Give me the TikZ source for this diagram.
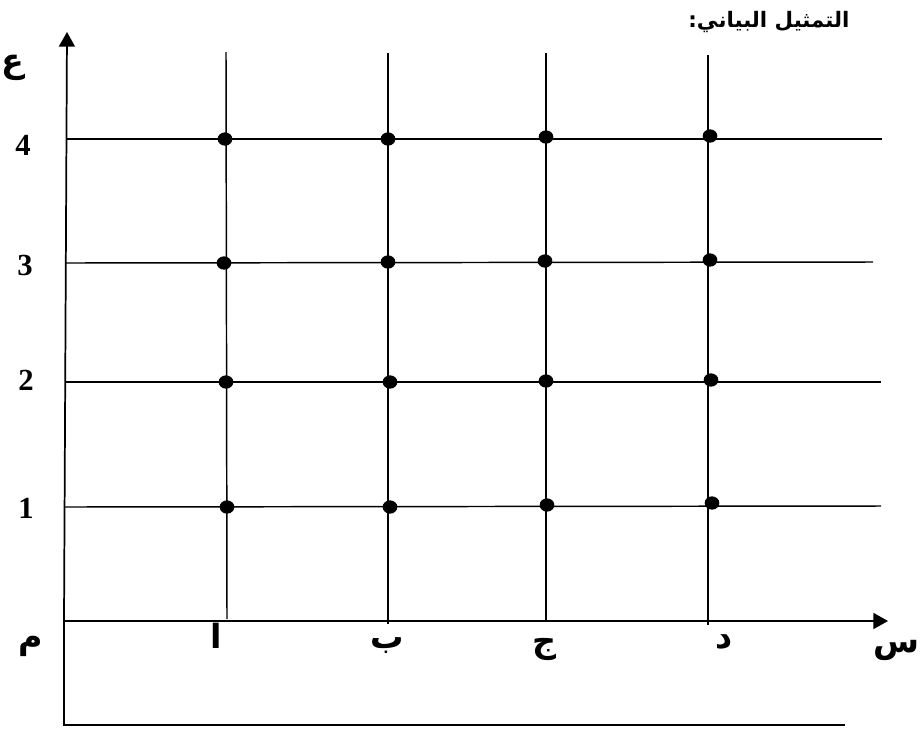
\documentclass[tikz,border=0pt]{standalone}
\usepackage{fontspec}
\setmainfont{Liberation Serif}
\newfontfamily\arabicfont[Script=Arabic]{DejaVu Sans}
\TeXXeTstate=1
\usetikzlibrary{arrows.meta,shapes.geometric}
\tikzset{
  axisline/.style={line width=1.3pt,-{Triangle[length=11pt,width=12pt]}},
  gridline/.style={line width=1.1pt},
  frameline/.style={line width=1.1pt},
  dotmark/.style={ellipse,fill=black,inner sep=0pt,minimum width=11pt,minimum height=10pt},
  numlabel/.style={font=\fontsize{23}{25}\selectfont\bfseries,inner sep=0pt},
  arlabel/.style={font=\arabicfont\bfseries\fontsize{25}{28}\selectfont,inner sep=0pt,anchor=base},
  titlelabel/.style={font=\arabicfont\bfseries\fontsize{16}{19}\selectfont,inner sep=0pt}
}
\begin{document}
\begin{tikzpicture}[x=0.75pt,y=-0.75pt]
\useasboundingbox (0,0) rectangle (921,729);
% axes
\coordinate (O) at (64,621);
\coordinate (Ytop) at (67,32);
\coordinate (Xend) at (888,621);
\coordinate (Bcorner) at (64,725);
\coordinate (Bend) at (845,725);
\draw[axisline] (O) -- (Ytop);
\draw[axisline] (O) -- (Xend);
\draw[frameline] (O) -- (Bcorner) -- (Bend);
% vertical grid lines
\coordinate (v1t) at (226,52);  \coordinate (v1b) at (227,619);
\coordinate (v2t) at (388,53);  \coordinate (v2b) at (388,624);
\coordinate (v3t) at (546,53);  \coordinate (v3b) at (546,620);
\coordinate (v4t) at (708,55);  \coordinate (v4b) at (708,625);
\draw[gridline] (v1t) -- (v1b);
\draw[gridline] (v2t) -- (v2b);
\draw[gridline] (v3t) -- (v3b);
\draw[gridline] (v4t) -- (v4b);
% horizontal grid lines
\coordinate (h4l) at (67,139);  \coordinate (h4r) at (882,139);
\coordinate (h3l) at (66,263);  \coordinate (h3r) at (873,262);
\coordinate (h2l) at (66,382);  \coordinate (h2r) at (881,382);
\coordinate (h1l) at (65,507);  \coordinate (h1r) at (881,506);
\draw[gridline] (h4l) -- (h4r);
\draw[gridline] (h3l) -- (h3r);
\draw[gridline] (h2l) -- (h2r);
\draw[gridline] (h1l) -- (h1r);
% dots
\node[dotmark] (p14) at (225,139) {};
\node[dotmark] (p24) at (388,139) {};
\node[dotmark] (p34) at (546,137) {};
\node[dotmark] (p44) at (710,136) {};
\node[dotmark] (p13) at (224,263) {};
\node[dotmark] (p23) at (388,262) {};
\node[dotmark] (p33) at (545,261) {};
\node[dotmark] (p43) at (710,260) {};
\node[dotmark] (p12) at (226,382) {};
\node[dotmark] (p22) at (390,382) {};
\node[dotmark] (p32) at (546,381) {};
\node[dotmark] (p42) at (711,380) {};
\node[dotmark] (p11) at (227,507) {};
\node[dotmark] (p21) at (390,507) {};
\node[dotmark] (p31) at (547,505) {};
\node[dotmark] (p41) at (712,503) {};
% y labels
\node[numlabel] (n4) at (23,145) {4};
\node[numlabel] (n3) at (25,265) {3};
\node[numlabel] (n2) at (26,380) {2};
\node[numlabel] (n1) at (26,508) {1};
% arabic labels
\node[arlabel] (ain) at (13,72) {\beginR ع\endR};
\node[arlabel] (mim) at (31,648) {\beginR م\endR};
\node[arlabel] (alif) at (216,648) {\beginR ا\endR};
\node[arlabel] (ba) at (387,648) {\beginR ب\endR};
\node[arlabel] (jim) at (545,652) {\beginR ج\endR};
\node[arlabel] (dal) at (724,648) {\beginR د\endR};
\node[arlabel,anchor=base east] (sin) at (920,652) {\beginR س\endR};
\node[titlelabel] (title) at (769,22) {\beginR التمثيل البياني:\endR};
\end{tikzpicture}
\end{document}
